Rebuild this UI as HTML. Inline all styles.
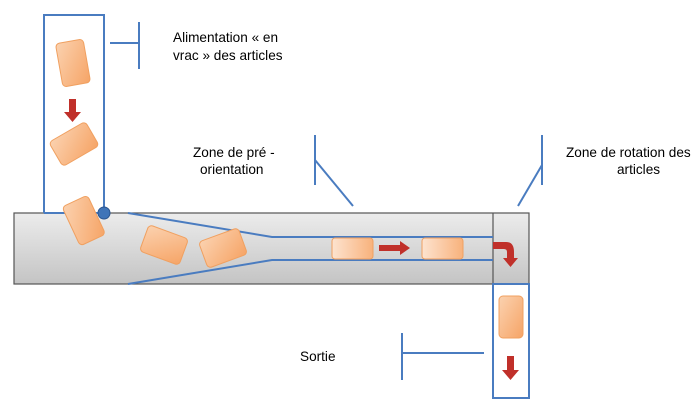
<!DOCTYPE html>
<html><head><meta charset="utf-8"><style>html,body{margin:0;padding:0;background:#fff;width:700px;height:410px;overflow:hidden}</style></head>
<body>
<svg width="700" height="410" viewBox="0 0 700 410" xmlns="http://www.w3.org/2000/svg" font-family="Liberation Sans, sans-serif" font-size="13.6" fill="#000">
<defs>
<linearGradient id="g" x1="0" y1="0" x2="0" y2="1"><stop offset="0" stop-color="#ececec"/><stop offset="1" stop-color="#c4c4c4"/></linearGradient>
<linearGradient id="o" x1="0" y1="0" x2="1" y2="0"><stop offset="0" stop-color="#fde3cf"/><stop offset="1" stop-color="#f8b27c"/></linearGradient>
<linearGradient id="o2" x1="0" y1="0" x2="1" y2="1"><stop offset="0" stop-color="#fbd2b0"/><stop offset="1" stop-color="#f6a466"/></linearGradient>
</defs>
<rect x="14" y="213" width="515" height="71" fill="url(#g)" stroke="#555" stroke-width="1.2"/>
<line x1="493" y1="213" x2="493" y2="284" stroke="#555" stroke-width="1.2"/>
<polyline points="44,213 44,15 104,15 104,213" fill="none" stroke="#4a7cc0" stroke-width="2"/>
<line x1="44" y1="213" x2="104" y2="213" stroke="#4a7cc0" stroke-width="2"/>
<rect x="493" y="284" width="36" height="114" fill="none" stroke="#4a7cc0" stroke-width="2"/>
<polyline points="128,213 272,237 493,237" fill="none" stroke="#4a7cc0" stroke-width="2"/>
<polyline points="128,284 272,260 493,260" fill="none" stroke="#4a7cc0" stroke-width="2"/>
<g fill="url(#o2)" stroke="#f0a060" stroke-width="1">
<rect x="-14" y="-22" width="28" height="44" rx="4" transform="translate(73,63) rotate(-10)"/>
<rect x="-21" y="-14" width="42" height="28" rx="4" transform="translate(74,144) rotate(-30)"/>
<rect x="-14" y="-22" width="28" height="43" rx="4" transform="translate(84,221) rotate(-25)"/>
<rect x="-21" y="-14" width="42" height="28" rx="4" transform="translate(164,245) rotate(20)"/>
<rect x="-21" y="-14" width="42" height="28" rx="4" transform="translate(223,248) rotate(-20)"/>
</g>
<g fill="url(#o)" stroke="#f0a060" stroke-width="1">
<rect x="332" y="238" width="41" height="21" rx="3"/>
<rect x="422" y="238" width="41" height="21" rx="3"/>
<rect x="499" y="296" width="24" height="42" rx="4" fill="url(#o2)"/>
</g>
<circle cx="104" cy="213" r="6" fill="#3f74b8" stroke="#2a558f" stroke-width="1"/>
<g fill="#c0302a">
<polygon points="69,99 76,99 76,112 81,112 72.5,122 64,112 69,112"/>
<polygon points="379,245 400,245 400,241 410,248 400,255 400,251 379,251"/>
<polygon points="507,356 514,356 514,370 519,370 510.5,380 502,370 507,370"/>
<path d="M493,242 L506,242 Q514,242 514,252 L514,258 L518,258 L510.5,267 L503,258 L507,258 L507,252 Q507,249 504,249 L493,249 Z"/>
</g>
<g stroke="#4a7cc0" stroke-width="2" fill="none">
<line x1="110" y1="43" x2="139" y2="43"/><line x1="139" y1="22" x2="139" y2="69"/>
<line x1="315" y1="135" x2="315" y2="185"/><line x1="315" y1="160" x2="353" y2="206"/>
<line x1="542" y1="135" x2="542" y2="185"/><line x1="542" y1="165" x2="518" y2="206"/>
<line x1="402" y1="333" x2="402" y2="380"/><line x1="402" y1="353" x2="484" y2="353"/>
</g>
<text x="173" y="42">Alimentation « en</text>
<text x="173" y="60">vrac » des articles</text>
<text x="193" y="157">Zone de pré -</text>
<text x="200" y="174">orientation</text>
<text x="566" y="157">Zone de rotation des</text>
<text x="617" y="174">articles</text>
<text x="300" y="361">Sortie</text>
</svg>
</body></html>
